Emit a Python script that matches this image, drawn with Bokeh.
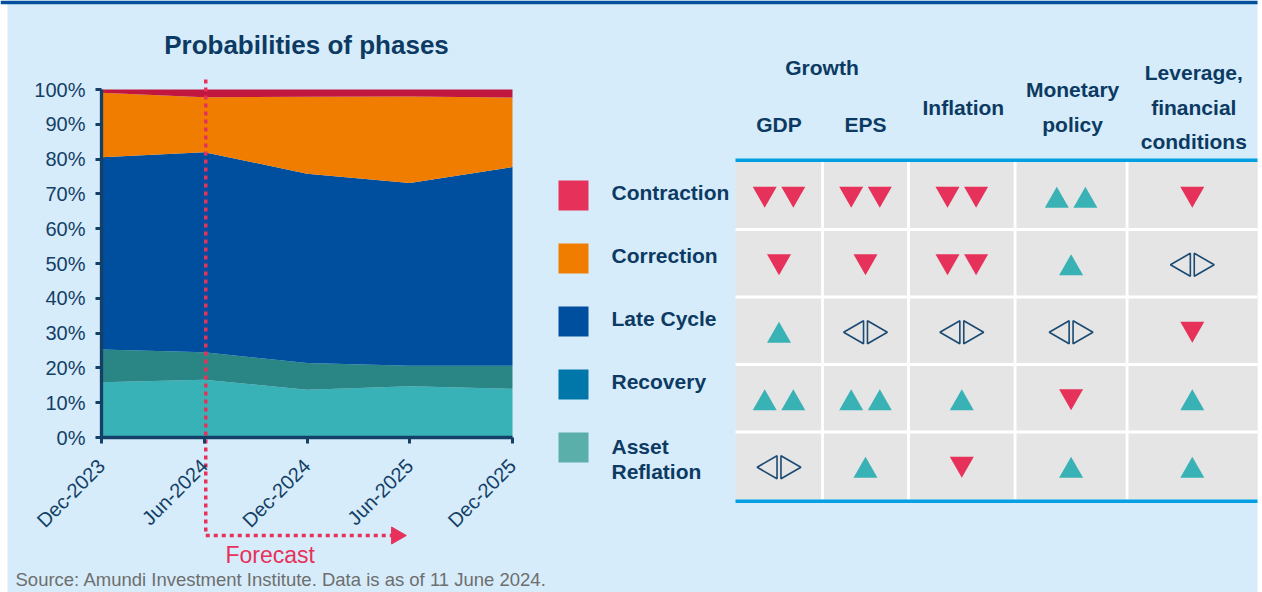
import math
from bokeh.plotting import figure
from bokeh.models import (Range1d, LinearAxis, FixedTicker, ColumnDataSource,
                          Label, PrintfTickFormatter)
from bokeh.core.properties import value
from bokeh.embed import file_html
from bokeh.resources import INLINE

# ---------------- data ----------------
dates = ["Dec-2023", "Jun-2024", "Dec-2024", "Jun-2025", "Dec-2025"]
asset_reflation = [15.9, 16.6, 13.7, 14.7, 14.0]
recovery = [9.4, 7.9, 7.7, 5.9, 6.6]
late_cycle = [55.2, 57.5, 54.4, 52.5, 57.1]
correction = [18.6, 15.8, 22.1, 24.9, 20.0]
contraction = [0.9, 2.2, 2.1, 2.0, 2.3]
y_ticks = [0, 10, 20, 30, 40, 50, 60, 70, 80, 90, 100]
forecast_start = "Jun-2024"

phases = ["Contraction", "Correction", "Late Cycle", "Recovery", "Asset\nReflation"]
table_columns = ["GDP", "EPS", "Inflation", "Monetary\npolicy", "Leverage,\nfinancial\nconditions"]
column_groups = ["Growth", "Growth", None, None, None]
# signal per phase (rows) and column: -2 two down, -1 down, 0 neutral, 1 up, 2 two up
signals = [
    [-2, -2, -2, 2, -1],
    [-1, -1, -2, 1, 0],
    [1, 0, 0, 0, -1],
    [2, 2, 1, -1, 1],
    [0, 1, -1, 1, 1],
]

# ---------------- styles ----------------
BG = "#d6ecfa"
NAVY = "#0c3a63"
AXIS_NAVY = "#143f66"
PINK = "#e6325a"
TEAL = "#38b2b5"
RULE = "#00a0e2"
CELL = "#e5e5e5"
chart_colors = ["#38b2b6", "#2a8585", "#004f9e", "#f07d00", "#c1173f"]
legend_colors = ["#e6325a", "#f07d00", "#004f9e", "#0077a8", "#5aafaa"]
FONT = "Liberation Sans"

# ---------------- layout (page pixels) ----------------
W, H = 1262, 592
OX, OY = 0, 0
CH_LEFT, CH_RIGHT = 101, 512
CH_BOTTOM, CH_TOP = 437, 89
n = len(dates)
dx = (CH_RIGHT - CH_LEFT) / (n - 1)
dy = (CH_BOTTOM - CH_TOP) / 100.0

p = figure(width=W, height=H,
           x_range=Range1d((OX - CH_LEFT) / dx, (OX + W - CH_LEFT) / dx),
           y_range=Range1d((CH_BOTTOM - (OY + H)) / dy, (CH_BOTTOM - OY) / dy),
           x_axis_location=None, y_axis_location=None,
           toolbar_location=None, output_backend="svg", min_border=0,
           background_fill_color="white", border_fill_color="white", outline_line_color=None)
p.grid.visible = False
p.extra_x_ranges = {"px": Range1d(OX, OX + W)}
p.extra_y_ranges = {"px": Range1d(OY + H, OY)}
PX = dict(x_range_name="px", y_range_name="px")

# panel background and top bar
p.quad(left=[7], right=[1257], top=[0], bottom=[H], fill_color=BG, line_color=None, **PX)
p.quad(left=[0], right=[1257], top=[0], bottom=[3.7], fill_color="#00509e", line_color=None, **PX)

# ---------------- stacked area chart ----------------
src = ColumnDataSource(dict(x=list(range(n)), ar=asset_reflation, rec=recovery,
                            lc=late_cycle, cor=correction, con=contraction))
p.varea_stack(stackers=["ar", "rec", "lc", "cor", "con"], x="x", color=chart_colors, source=src)

yaxis = LinearAxis(fixed_location=0, bounds=(0, 100), ticker=FixedTicker(ticks=y_ticks),
                   formatter=PrintfTickFormatter(format="%d%%"))
xaxis = LinearAxis(fixed_location=0, bounds=(0, n - 1), ticker=FixedTicker(ticks=list(range(n))),
                   major_label_overrides={i: d for i, d in enumerate(dates)},
                   major_label_orientation=math.pi / 4)
for ax in (yaxis, xaxis):
    ax.axis_line_color = AXIS_NAVY
    ax.axis_line_width = 3.3
    ax.major_tick_line_color = AXIS_NAVY
    ax.major_tick_line_width = 3
    ax.major_tick_out = 6
    ax.major_tick_in = 0
    ax.minor_tick_line_color = None
    ax.major_label_text_font = FONT
    ax.major_label_text_font_size = "20px"
    ax.major_label_text_color = AXIS_NAVY
yaxis.major_label_standoff = 10
xaxis.major_label_standoff = 19
p.add_layout(yaxis, "left")
p.add_layout(xaxis, "below")

# forecast marker
fx = CH_LEFT + dates.index(forecast_start) * dx + 1.5
p.line(x=[fx, fx, 392], y=[79, 535, 535], line_color=PINK, line_width=3.5,
       line_dash="4 4", **PX)
p.scatter(x=[396], y=[535], marker="triangle", size=17, angle=-math.pi / 2,
          fill_color=PINK, line_color=PINK, **PX)
p.add_layout(Label(x=225, y=554, text="Forecast", text_font=FONT, text_font_size="23px",
                   text_color=PINK, text_baseline="middle", **PX))

p.add_layout(Label(x=306, y=44, text="Probabilities of phases", text_font=FONT,
                   text_font_size="26px", text_font_style="bold", text_color=NAVY,
                   text_align="center", text_baseline="middle", **PX))
p.add_layout(Label(x=15, y=578.5, text="Source: Amundi Investment Institute. Data is as of 11 June 2024.",
                   text_font=FONT, text_font_size="18.5px", text_color="#6e6e6e",
                   text_baseline="middle", **PX))

# ---------------- legend ----------------
LEG_X, LEG_Y0, LEG_STEP = 573, 195, 63
LBL_X, LINE_H = 611, 25.7
sq_y = [LEG_Y0 + i * LEG_STEP for i in range(len(phases))]
p.scatter(x=[LEG_X] * len(phases), y=sq_y, marker="square", size=30,
          fill_color=legend_colors, line_color=None, **PX)
lx, ly, lt = [], [], []
for i, name in enumerate(phases):
    lines = name.split("\n")
    for j, t in enumerate(lines):
        lx.append(LBL_X)
        ly.append(sq_y[i] - (3 if len(lines) == 1 else 1.5) + j * LINE_H)
        lt.append(t)
p.text(x=lx, y=ly, text=lt, text_font=value(FONT), text_font_size="21px",
       text_font_style="bold", text_color=NAVY, text_baseline="middle", **PX)

# ---------------- table ----------------
col_edges = [735, 822, 908, 1014.6, 1126.6, 1257]
T_TOP, T_BOTTOM = 161.5, 499
nrows, ncols = len(phases), len(table_columns)
row_h = (T_BOTTOM - T_TOP) / nrows
col_c = [(col_edges[k] + col_edges[k + 1]) / 2 for k in range(ncols)]
row_c = [T_TOP + (i + 0.5) * row_h for i in range(nrows)]

p.quad(left=[col_edges[0]], right=[col_edges[-1]], top=[T_TOP], bottom=[T_BOTTOM],
       fill_color=CELL, line_color=None, **PX)
p.segment(x0=col_edges[1:-1], x1=col_edges[1:-1], y0=[T_TOP] * (ncols - 1), y1=[T_BOTTOM] * (ncols - 1),
          line_color="white", line_width=2.8, **PX)
ry = [T_TOP + i * row_h for i in range(1, nrows)]
p.segment(x0=[col_edges[0]] * (nrows - 1), x1=[col_edges[-1]] * (nrows - 1), y0=ry, y1=ry,
          line_color="white", line_width=2.8, **PX)
p.segment(x0=[col_edges[0]] * 2, x1=[col_edges[-1]] * 2, y0=[159.8, 500.8], y1=[159.8, 500.8],
          line_color=RULE, line_width=3.4, **PX)

# header
HEAD_MID, HEAD_LINE = 106.5, 34.8
hx, hy, ht = [], [], []
done_groups = set()
for k, name in enumerate(table_columns):
    lines = name.split("\n")
    g = column_groups[k]
    if g is not None:
        hx.append(col_c[k]); hy.append(HEAD_MID + 17.5); ht.append(name)
        if g not in done_groups:
            done_groups.add(g)
            ks = [m for m, gg in enumerate(column_groups) if gg == g]
            hx.append((col_edges[ks[0]] + col_edges[ks[-1] + 1]) / 2)
            hy.append(HEAD_MID - 39.5); ht.append(g)
    else:
        for j, t in enumerate(lines):
            hx.append(col_c[k] + 1.5)
            hy.append(HEAD_MID + (j - (len(lines) - 1) / 2) * HEAD_LINE)
            ht.append(t)
p.text(x=hx, y=hy, text=ht, text_font=value(FONT), text_font_size="21px",
       text_font_style="bold", text_color=NAVY, text_align="center", text_baseline="middle", **PX)

# signal markers
TRI = 24
h_tri = TRI * math.sqrt(3) / 2
up_x, up_y, dn_x, dn_y, lf_x, rt_x, nt_y = [], [], [], [], [], [], []
for i in range(nrows):
    for k in range(ncols):
        s = signals[i][k]
        cx, cy = col_c[k], row_c[i] + 1.5
        offs = [-14.3, 14.3] if abs(s) == 2 else [0.0]
        if s > 0:
            for o in offs:
                up_x.append(cx + o); up_y.append(cy + h_tri / 6)
        elif s < 0:
            for o in offs:
                dn_x.append(cx + o); dn_y.append(cy - h_tri / 6)
        else:
            lf_x.append(cx - 8.6); rt_x.append(cx + 8.6); nt_y.append(cy)
p.scatter(x=up_x, y=up_y, marker="triangle", size=TRI, fill_color=TEAL, line_color=None, **PX)
p.scatter(x=dn_x, y=dn_y, marker="inverted_triangle", size=TRI, fill_color=PINK, line_color=None, **PX)
p.scatter(x=lf_x, y=nt_y, marker="triangle", size=23, angle=math.pi / 2, fill_color=None,
          line_color="#1b4a72", line_width=1.6, **PX)
p.scatter(x=rt_x, y=nt_y, marker="triangle", size=23, angle=-math.pi / 2, fill_color=None,
          line_color="#1b4a72", line_width=1.6, **PX)

open("out.html", "w").write(file_html(p, INLINE))
